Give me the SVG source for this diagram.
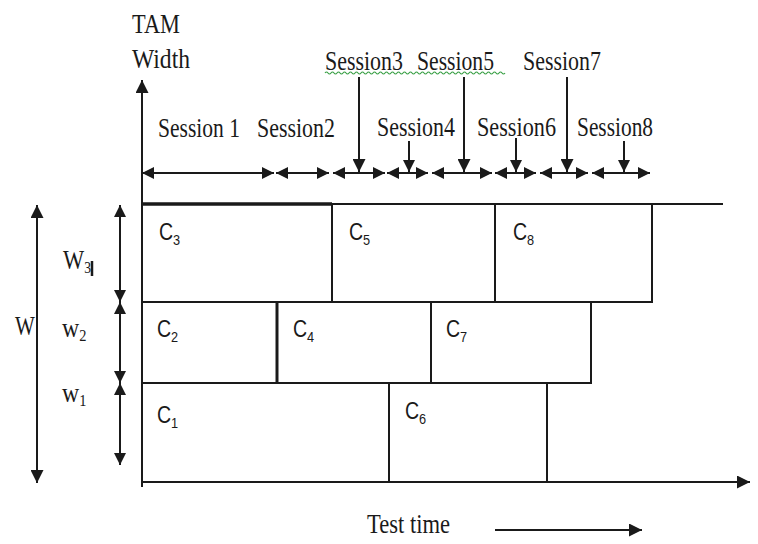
<svg xmlns="http://www.w3.org/2000/svg" width="758" height="544" viewBox="0 0 758 544">
  <style>
    .ln { stroke: #1a1a1a; stroke-width: 2; fill: none; }
    .box { stroke: #1a1a1a; stroke-width: 2; fill: #ffffff; }
    .serif { font-family: "Liberation Serif", "Times New Roman", serif; font-size: 28px; fill: #1a1a1a; }
    .sans { font-family: "Liberation Sans", Arial, sans-serif; font-size: 23px; fill: #1a1a1a; }
    .sub { font-size: 15px; }
    .ssub { font-size: 17px; }
  </style>
  <defs>
    <marker id="ah" viewBox="0 0 10 10" refX="10" refY="5" markerWidth="12" markerHeight="12" markerUnits="userSpaceOnUse" orient="auto-start-reverse">
      <path d="M0,0 L10,5 L0,10 Z" fill="#1a1a1a"/>
    </marker>
    <marker id="ahL" viewBox="0 0 10 10" refX="10" refY="5" markerWidth="14" markerHeight="13" markerUnits="userSpaceOnUse" orient="auto-start-reverse">
      <path d="M0,0 L10,5 L0,10 Z" fill="#1a1a1a"/>
    </marker>
  </defs>
  <rect width="758" height="544" fill="#ffffff"/>

  <!-- axis titles -->
  <text class="serif" x="132" y="33" textLength="48" lengthAdjust="spacingAndGlyphs">TAM</text>
  <text class="serif" x="132" y="68" textLength="58" lengthAdjust="spacingAndGlyphs">Width</text>
  <text class="serif" x="367" y="533" font-size="26" textLength="83" lengthAdjust="spacingAndGlyphs">Test time</text>

  <!-- session labels -->
  <g id="session-labels">
    <text class="serif" x="158" y="137" textLength="82" lengthAdjust="spacingAndGlyphs">Session 1</text>
    <text class="serif" x="257" y="137" textLength="78" lengthAdjust="spacingAndGlyphs">Session2</text>
    <text class="serif" x="325" y="70" textLength="78" lengthAdjust="spacingAndGlyphs">Session3</text>
    <text class="serif" x="417" y="70" textLength="77" lengthAdjust="spacingAndGlyphs">Session5</text>
    <text class="serif" x="523" y="70" textLength="78" lengthAdjust="spacingAndGlyphs">Session7</text>
    <text class="serif" x="377" y="136" textLength="78" lengthAdjust="spacingAndGlyphs">Session4</text>
    <text class="serif" x="477" y="136" textLength="79" lengthAdjust="spacingAndGlyphs">Session6</text>
    <text class="serif" x="577" y="136" textLength="76" lengthAdjust="spacingAndGlyphs">Session8</text>
    <!-- spell-check squiggle under the upper labels -->
    <path d="M325,73 q1.5,-2 3,0 t3,0 t3,0 t3,0 t3,0 t3,0 t3,0 t3,0 t3,0 t3,0 t3,0 t3,0 t3,0 t3,0 t3,0 t3,0 t3,0 t3,0 t3,0 t3,0 t3,0 t3,0 t3,0 t3,0 t3,0 t3,0 t3,0 t3,0 t3,0 t3,0 t3,0 t3,0 t3,0 t3,0 t3,0 t3,0 t3,0 t3,0 t3,0 t3,0 t3,0 t3,0 t3,0 t3,0 t3,0 t3,0 t3,0 t3,0 t3,0 t3,0 t3,0 t3,0 t3,0 t3,0 t3,0 t3,0 t3,0 t3,0 t3,0 t3,0" stroke="#3aa046" stroke-width="1.2" fill="none"/>
  </g>

  <!-- cores -->
  <g id="c3"><rect class="box" x="142" y="204" width="190" height="98"/><line x1="142" y1="204" x2="332" y2="204" stroke="#1a1a1a" stroke-width="3.5"/>
    <text class="sans" transform="translate(159,240) scale(0.85,1)">C<tspan class="sub" dy="5">3</tspan></text></g>
  <g id="c5"><rect class="box" x="332" y="204" width="163" height="98"/>
    <text class="sans" transform="translate(349,240) scale(0.85,1)">C<tspan class="sub" dy="5">5</tspan></text></g>
  <g id="c8"><rect class="box" x="495" y="204" width="157" height="98"/>
    <text class="sans" transform="translate(513,240) scale(0.85,1)">C<tspan class="sub" dy="5">8</tspan></text></g>
  <g id="c2"><rect class="box" x="142" y="302" width="135" height="81"/>
    <text class="sans" transform="translate(157,337) scale(0.85,1)">C<tspan class="sub" dy="5">2</tspan></text></g>
  <g id="c4"><rect class="box" x="277" y="302" width="154" height="81"/><line x1="277" y1="302" x2="277" y2="383" stroke="#1a1a1a" stroke-width="3"/>
    <text class="sans" transform="translate(293,337) scale(0.85,1)">C<tspan class="sub" dy="5">4</tspan></text></g>
  <g id="c7"><rect class="box" x="431" y="302" width="160" height="81"/>
    <text class="sans" transform="translate(446,337) scale(0.85,1)">C<tspan class="sub" dy="5">7</tspan></text></g>
  <g id="c1"><rect class="box" x="142" y="383" width="247" height="99"/>
    <text class="sans" transform="translate(157,423) scale(0.85,1)">C<tspan class="sub" dy="5">1</tspan></text></g>
  <g id="c6"><rect class="box" x="389" y="383" width="158" height="99"/>
    <text class="sans" transform="translate(405,419) scale(0.85,1)">C<tspan class="sub" dy="5">6</tspan></text></g>

  <!-- width labels -->
  <g id="width-labels">
    <text class="serif" font-size="27" transform="translate(15,335) scale(0.75,1)">W</text>
    <text class="serif" font-size="27" transform="translate(63,269) scale(0.8,1)">W<tspan class="ssub" dy="4">3</tspan></text>
    <line x1="92" y1="261" x2="92" y2="276" stroke="#1a1a1a" stroke-width="2.5"/>
    <text class="serif" font-size="27" transform="translate(62,337) scale(0.85,1)">w<tspan class="ssub" dy="4">2</tspan></text>
    <text class="serif" font-size="27" transform="translate(62,402) scale(0.85,1)">w<tspan class="ssub" dy="4">1</tspan></text>
  </g>

  <g id="connectors">
    <!-- axes -->
    <line class="ln" x1="142" y1="487" x2="142" y2="80" marker-end="url(#ahL)"/>
    <line class="ln" x1="142" y1="482" x2="750" y2="482" marker-end="url(#ahL)"/>
    <line class="ln" x1="332" y1="204" x2="723" y2="204"/>
    <line class="ln" x1="495" y1="530" x2="642" y2="530" marker-end="url(#ahL)"/>

    <!-- overall and per-core widths -->
    <line class="ln" x1="37" y1="205" x2="37" y2="483" marker-start="url(#ahL)" marker-end="url(#ahL)"/>
    <line class="ln" x1="120" y1="205" x2="120" y2="302" marker-start="url(#ah)" marker-end="url(#ah)"/>
    <line class="ln" x1="120" y1="302" x2="120" y2="383" marker-start="url(#ah)" marker-end="url(#ah)"/>
    <line class="ln" x1="120" y1="383" x2="120" y2="465" marker-start="url(#ah)" marker-end="url(#ah)"/>

    <!-- session spans -->
    <line class="ln" x1="142" y1="173" x2="274" y2="173" marker-start="url(#ah)" marker-end="url(#ah)"/>
    <line class="ln" x1="276" y1="173" x2="329" y2="173" marker-start="url(#ah)" marker-end="url(#ah)"/>
    <line class="ln" x1="333" y1="173" x2="385" y2="173" marker-start="url(#ah)" marker-end="url(#ah)"/>
    <line class="ln" x1="387" y1="173" x2="428" y2="173" marker-start="url(#ah)" marker-end="url(#ah)"/>
    <line class="ln" x1="432" y1="173" x2="492" y2="173" marker-start="url(#ah)" marker-end="url(#ah)"/>
    <line class="ln" x1="495" y1="173" x2="536" y2="173" marker-start="url(#ah)" marker-end="url(#ah)"/>
    <line class="ln" x1="540" y1="173" x2="588" y2="173" marker-start="url(#ah)" marker-end="url(#ah)"/>
    <line class="ln" x1="592" y1="173" x2="650" y2="173" marker-start="url(#ah)" marker-end="url(#ah)"/>

    <!-- label pointers -->
    <line class="ln" x1="359" y1="77" x2="359" y2="172" marker-end="url(#ahL)"/>
    <line class="ln" x1="409" y1="141" x2="409" y2="172" marker-end="url(#ah)"/>
    <line class="ln" x1="464" y1="77" x2="464" y2="172" marker-end="url(#ahL)"/>
    <line class="ln" x1="516" y1="138" x2="516" y2="172" marker-end="url(#ah)"/>
    <line class="ln" x1="567" y1="77" x2="567" y2="172" marker-end="url(#ahL)"/>
    <line class="ln" x1="624" y1="141" x2="624" y2="172" marker-end="url(#ah)"/>
  </g>
</svg>
